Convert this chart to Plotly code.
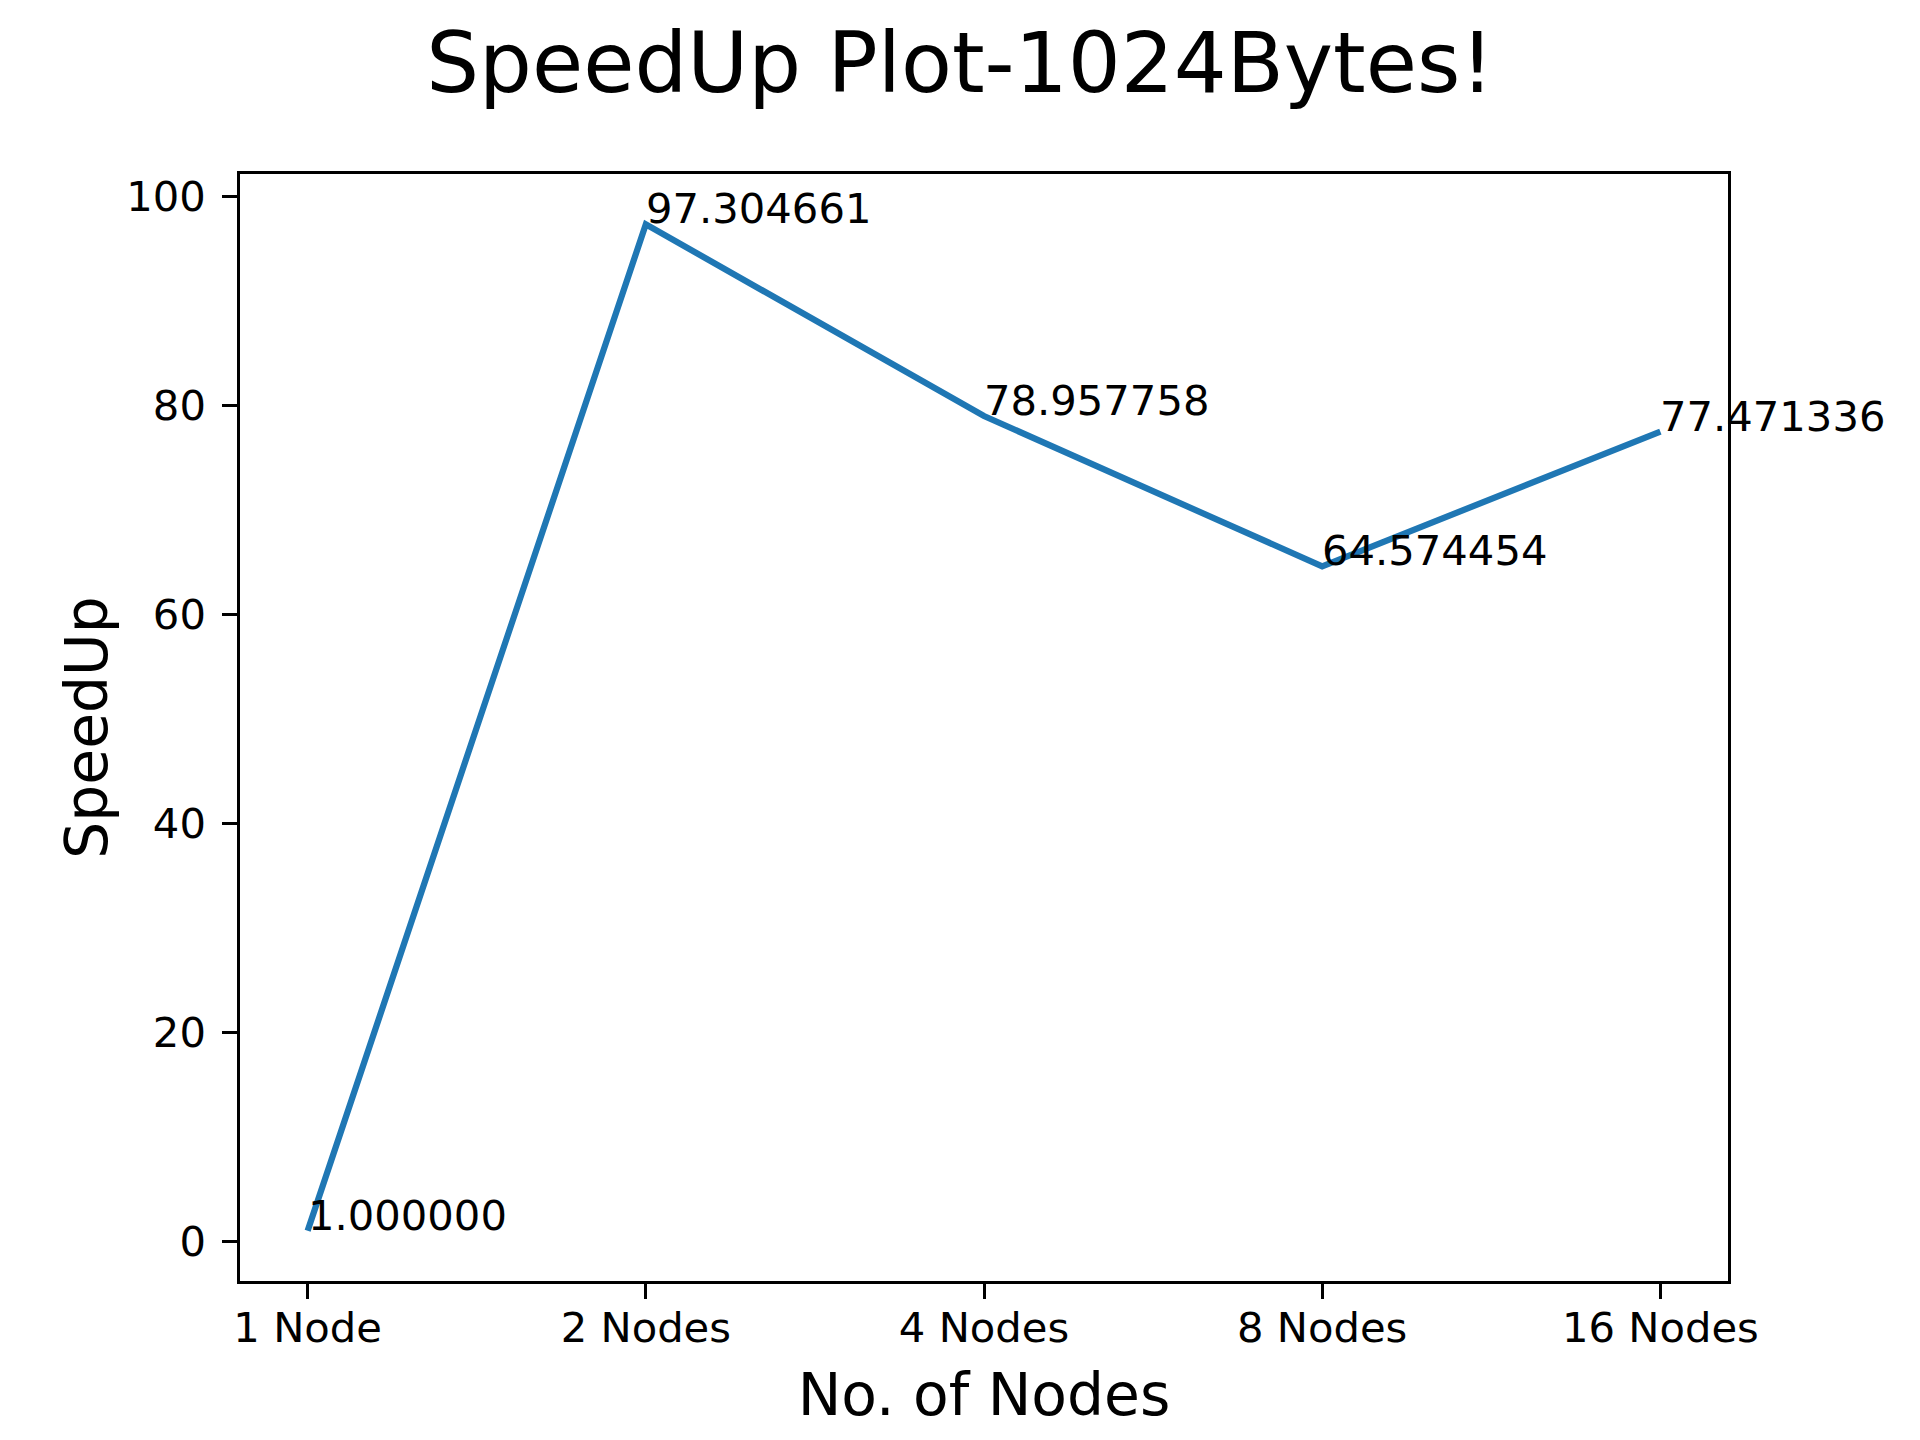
import plotly.graph_objects as go

categories = ["1 Node", "2 Nodes", "4 Nodes", "8 Nodes", "16 Nodes"]
speedup = [1.000000, 97.304661, 78.957758, 64.574454, 77.471336]
y_ticks = [0, 20, 40, 60, 80, 100]

FONT = "DejaVu Sans"
fig = go.Figure()
fig.add_trace(go.Scatter(
    x=categories, y=speedup, mode="lines",
    line=dict(color="#1f77b4", width=6.25),
    showlegend=False, hoverinfo="skip",
))

for c, v in zip(categories, speedup):
    fig.add_annotation(
        x=c, y=v, xref="x", yref="y", text=f"{v:f}",
        showarrow=False, xanchor="left", yanchor="bottom",
        xshift=-2, yshift=-11,
        font=dict(family=FONT, size=41.7, color="black"),
    )

fig.update_layout(
    width=1920, height=1440,
    margin=dict(l=240, r=192, t=174, b=159),
    paper_bgcolor="white", plot_bgcolor="white",
    font=dict(family=FONT, color="black"),
    title=dict(
        text="SpeedUp Plot-1024Bytes!",
        x=0.5, xanchor="center", xref="container",
        y=1 - 63 / 1440, yanchor="middle", yref="container",
        font=dict(family=FONT, size=83.3, color="black"),
    ),
)

fig.update_xaxes(
    type="category", categoryorder="array", categoryarray=categories,
    range=[-0.2, 4.2],
    showline=True, linecolor="black", linewidth=3.3, mirror=True,
    showgrid=False, zeroline=False,
    ticks="outside", ticklen=14.6, tickwidth=3.3, tickcolor="black",
    tickfont=dict(family=FONT, size=41.7, color="black"),
    ticklabelstandoff=-7,
    title=dict(text="No. of Nodes", font=dict(family=FONT, size=58.3, color="black"), standoff=24),
)
fig.update_yaxes(
    range=[-3.815, 102.12],
    tickvals=y_ticks, ticktext=[str(t) for t in y_ticks],
    showline=True, linecolor="black", linewidth=3.3, mirror=True,
    showgrid=False, zeroline=False,
    ticks="outside", ticklen=14.6, tickwidth=3.3, tickcolor="black",
    tickfont=dict(family=FONT, size=41.7, color="black"),
    ticklabelstandoff=8,
    title=dict(text="SpeedUp", font=dict(family=FONT, size=58.3, color="black"), standoff=0),
)

fig.write_html("out.html")
